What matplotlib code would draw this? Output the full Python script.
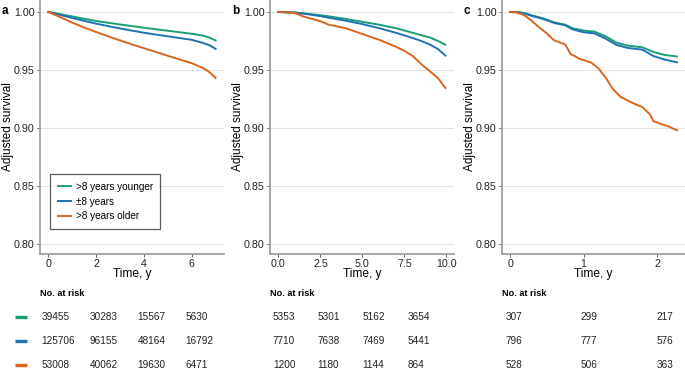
import numpy as np
import matplotlib
matplotlib.use("Agg")
import matplotlib.pyplot as plt
import matplotlib.transforms as mtransforms

plt.rcParams['font.family'] = ['Liberation Sans', 'DejaVu Sans']

# colours for the three age-gap groups
colors = ["#1a9e77", "#1f73b3", "#d9661c"]
labels = [">8 years younger", "\u00b18 years", ">8 years older"]

# panel a
t_a = [0, 0.5, 1, 1.5, 2, 2.5, 3, 3.5, 4, 4.5, 5, 5.5, 6, 6.5, 6.75, 7.0]
a_young = [1.0, 0.9981, 0.9961, 0.9941, 0.9922, 0.9907, 0.9892, 0.9878, 0.9864, 0.9851, 0.9838, 0.9825, 0.9812, 0.9795, 0.9778, 0.9754]
a_mid = [1.0, 0.9974, 0.9948, 0.9923, 0.9899, 0.9878, 0.9858, 0.9839, 0.9821, 0.9805, 0.9790, 0.9775, 0.9760, 0.9731, 0.9712, 0.9682]
a_old = [1.0, 0.9955, 0.9908, 0.9866, 0.9827, 0.9790, 0.9755, 0.9720, 0.9688, 0.9655, 0.9622, 0.9590, 0.9558, 0.9514, 0.9480, 0.9430]

# panel b
t_b = [0, 1, 1.5, 2, 2.5, 3, 4, 5, 6, 7, 7.5, 8, 8.5, 9, 9.5, 9.94]
b_young = [1.0, 0.9995, 0.9988, 0.9980, 0.9972, 0.9962, 0.9940, 0.9915, 0.9890, 0.9860, 0.9840, 0.9820, 0.9800, 0.9780, 0.9750, 0.9717]
b_mid = [1.0, 0.9995, 0.9985, 0.9975, 0.9964, 0.9950, 0.9925, 0.9895, 0.9860, 0.9820, 0.9798, 0.9775, 0.9750, 0.9720, 0.9680, 0.9624]
b_old = [1.0, 0.9990, 0.9960, 0.9940, 0.9920, 0.9890, 0.9860, 0.9810, 0.9760, 0.9700, 0.9665, 0.9620, 0.9550, 0.9490, 0.9430, 0.9344]

# panel c
t_c = [0, 0.1, 0.2, 0.3, 0.45, 0.6, 0.75, 0.85, 1.0, 1.15, 1.3, 1.45, 1.6, 1.8, 1.95, 2.1, 2.27]
c_young = [1.0, 1.0, 0.999, 0.997, 0.9945, 0.991, 0.989, 0.986, 0.984, 0.983, 0.979, 0.9735, 0.971, 0.9695, 0.9655, 0.963, 0.9616]
c_mid = [1.0, 0.9998, 0.9985, 0.9965, 0.994, 0.9905, 0.9885, 0.985, 0.9825, 0.9815, 0.977, 0.9715, 0.969, 0.9675, 0.962, 0.959, 0.9566]
t_c_old = [0, 0.1, 0.2, 0.3, 0.4, 0.5, 0.6, 0.75, 0.82, 0.95, 1.1, 1.2, 1.3, 1.4, 1.5, 1.65, 1.8, 1.9, 1.95, 2.05, 2.15, 2.27]
c_old = [1.0, 0.9995, 0.997, 0.992, 0.9865, 0.9815, 0.9755, 0.972, 0.964, 0.9595, 0.9565, 0.9515, 0.9435, 0.9335, 0.927, 0.922, 0.918, 0.912, 0.906, 0.9035, 0.9015, 0.898]

# numbers at risk
risk_t_a = [0, 2, 4, 6]
risk_a = [[39455, 30283, 15567, 5630],
          [125706, 96155, 48164, 16792],
          [53008, 40062, 19630, 6471]]
risk_t_b = [0, 2.5, 5, 7.5]
risk_b = [[5353, 5301, 5162, 3654],
          [7710, 7638, 7469, 5441],
          [1200, 1180, 1144, 864]]
risk_t_c = [0, 1, 2]
risk_c = [[307, 299, 217],
          [796, 777, 576],
          [528, 506, 363]]

W, H = 685, 369
fig = plt.figure(figsize=(W / 100, H / 100), dpi=100)


def px_axes(x0, x1, y0, y1):
    return fig.add_axes([x0 / W, 1 - y1 / H, (x1 - x0) / W, (y1 - y0) / H])


panels = [
    ("a", (40, 224), (-0.35, 7.35), [0, 2, 4, 6], ["0", "2", "4", "6"],
     [(t_a, a_young), (t_a, a_mid), (t_a, a_old)], (33, 218), risk_t_a, risk_a),
    ("b", (270, 454), (-0.5, 10.45), [0, 2.5, 5, 7.5, 10], ["0.0", "2.5", "5.0", "7.5", "10.0"],
     [(t_b, b_young), (t_b, b_mid), (t_b, b_old)], (264, 460), risk_t_b, risk_b),
    ("c", (502, 685), (-0.11, 2.38), [0, 1, 2], ["0", "1", "2"],
     [(t_c, c_young), (t_c, c_mid), (t_c_old, c_old)], (497, 685), risk_t_c, risk_c),
]

for letter, (x0, x1), xlim, xt, xtl, series, (tx0, tx1), rt, rv in panels:
    ax = px_axes(x0, x1, 0, 254)
    for (t, s), col, lab in zip(series, colors, labels):
        ax.plot(t, s, color=col, lw=1.4, label=lab, solid_joinstyle="round")
    ax.set_xlim(*xlim)
    ax.set_ylim(0.7914, 1.0103)
    ax.set_yticks([0.80, 0.85, 0.90, 0.95, 1.00])
    ax.set_yticklabels(["0.80", "0.85", "0.90", "0.95", "1.00"])
    ax.set_xticks(xt)
    ax.set_xticklabels(xtl)
    ax.grid(axis="y", color="#e3e3e3", lw=0.8)
    ax.set_axisbelow(True)
    for side in ["top", "right"]:
        ax.spines[side].set_visible(False)
    for side in ["left", "bottom"]:
        ax.spines[side].set_color("#a0a0a0")
        ax.spines[side].set_linewidth(1.3)
    ax.tick_params(labelsize=7.7, length=2.5, width=0.6, color="#444444", pad=1.2, labelcolor="#222222")
    ax.set_xlabel("Time, y", fontsize=8.6, labelpad=-0.5)
    ax.set_ylabel("Adjusted survival", fontsize=8.5)
    ax.yaxis.set_label_coords(-0.14, 0.5)
    fig.text((x0 - 38) / W, 1 - 11 / H, letter, fontsize=8.5, fontweight="bold", va="center", ha="left")

    if letter == "a":
        leg = ax.legend(loc="lower left", bbox_to_anchor=((50 - 40) / 184, (254 - 229) / 254),
                        fontsize=7.2, frameon=True, fancybox=False, handlelength=1.3,
                        borderpad=0.75, labelspacing=0.48, handletextpad=0.5, borderaxespad=0)
        leg.get_frame().set_edgecolor("#333333")
        leg.get_frame().set_linewidth(0.9)

    # risk table
    blend = mtransforms.blended_transform_factory(ax.transAxes, fig.transFigure)
    ax.text(0, 1 - 293 / H, "No. at risk", transform=blend, fontsize=6.6,
            fontweight="bold", ha="left", va="center")
    tab = px_axes(tx0, tx1, 305, 369)
    tab.set_xlim(*xlim)
    tab.set_ylim(2.1667, -0.5)
    tab.axis("off")
    for i, row in enumerate(rv):
        for xv, v in zip(rt, row):
            tab.text(xv, i, str(v), fontsize=7.2, ha="left", va="center", color="#222222")
    if letter == "a":
        for i, col in enumerate(colors):
            tab.plot([-1.1, -0.6], [i, i], color=col, lw=2.4, clip_on=False,
                     solid_capstyle="butt")

fig.savefig("out.png", dpi=100)
